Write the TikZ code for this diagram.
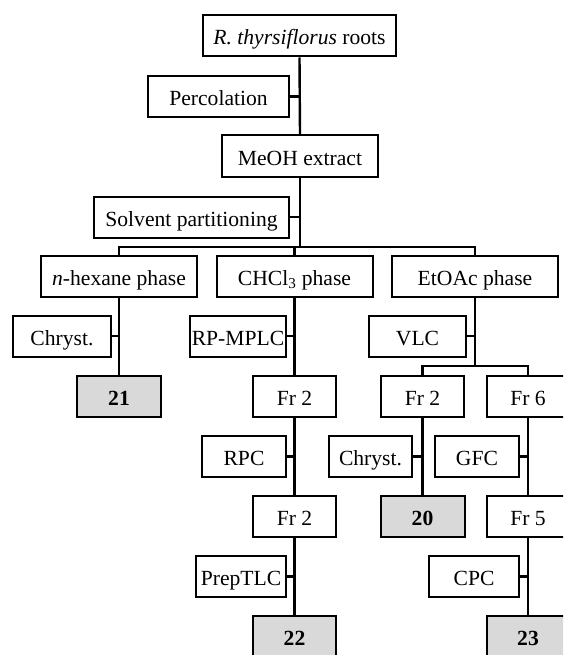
\documentclass[tikz,border=0pt]{standalone}
\usepackage{fontspec}
\setmainfont{Liberation Serif}
\usetikzlibrary{positioning, calc}
\definecolor{cmpdgray}{HTML}{D9D9D9}

\begin{document}
\begin{tikzpicture}[
  x=1pt, y=-1pt,
  stepbox/.style={
    draw=black, line width=2pt, fill=white, minimum width=#1,
    minimum height=41pt, inner xsep=1pt, inner ysep=0pt,
    text height=20pt, text depth=2pt,
    font=\fontsize{21.6}{26}\selectfont, align=center
  },
  cmpdbox/.style={
    stepbox=#1, fill=cmpdgray, font=\fontsize{21.6}{26}\selectfont\bfseries
  },
  link/.style={line width=2.4pt, black},
]

% ============================================================
% Page frame (reference is cropped at right and bottom)
% ============================================================
\useasboundingbox (0,0) rectangle (563,655);
\clip (0,0) rectangle (563,655);
\fill[white] (0,0) rectangle (563,655);

% ============================================================
% Extraction: top part
% ============================================================
\node[stepbox=193pt] (roots) at (299.5,36) {\textit{R. thyrsiflorus} roots};
\node[stepbox=141pt] (perc) at (218.5,96.5) {Percolation};
\node[stepbox=156pt] (meoh) at (300,156) {MeOH extract};
\node[stepbox=195pt] (solv) at (191.5,217) {Solvent partitioning};

% --- phases ---
\node[stepbox=156pt] (hex) at (119,276) {\textit{n}-hexane phase};
\node[stepbox=156pt] (chcl) at (294.5,276) {CHCl\textsubscript{3} phase};
\node[stepbox=166pt] (etoac) at (475,276) {EtOAc phase};

% ============================================================
% n-hexane branch
% ============================================================
\node[stepbox=98pt] (chryst-a) at (62,336) {Chryst.};
\node[cmpdbox=84pt] (c21) at (119,396.5) {21};

% ============================================================
% CHCl3 branch
% ============================================================
\node[stepbox=96pt] (rpmplc) at (238,336) {RP-MPLC};
\node[stepbox=83pt] (fr2-a) at (294.5,396.5) {Fr 2};
\node[stepbox=84pt] (rpc) at (244,456.5) {RPC};
\node[stepbox=83pt] (fr2-c) at (294.5,516.5) {Fr 2};
\node[stepbox=90pt] (prep) at (241,576.5) {PrepTLC};
\node[cmpdbox=83pt] (c22) at (294.5,636.5) {22};

% ============================================================
% EtOAc branch
% ============================================================
\node[stepbox=97pt] (vlc) at (417.5,336) {VLC};
\node[stepbox=83pt] (fr2-b) at (422.5,396.5) {Fr 2};
\node[stepbox=83pt] (fr6) at (528,396.5) {Fr 6};
\node[stepbox=83pt] (chryst-b) at (370.5,456.5) {Chryst.};
\node[stepbox=84pt] (gfc) at (477,456.5) {GFC};
\node[cmpdbox=84pt] (c20) at (422.5,516.5) {20};
\node[stepbox=83pt] (fr5) at (528,516.5) {Fr 5};
\node[stepbox=90pt] (cpc) at (474,576.5) {CPC};
\node[cmpdbox=83pt] (c23) at (528,636.5) {23};

% ============================================================
% Connectors
% ============================================================
\draw[link] (roots.south) -- (meoh.north);
\draw[link] (perc.east) -- (perc.east -| roots.south);

\coordinate (split1) at (300,247);
\draw[link] (meoh.south) -- (split1);
\draw[link] (solv.east) -- (solv.east -| meoh.south);
\draw[link] (hex.north) |- (split1) -| (etoac.north);
\draw[link] (chcl.north) -- (chcl.north |- split1);

% --- n-hexane ---
\draw[link] (hex.south) -- (c21.north);
\draw[link] (chryst-a.east) -- (chryst-a.east -| hex.south);

% --- CHCl3 ---
\draw[link] (chcl.south) -- (fr2-a.north);
\draw[link] (rpmplc.east) -- (rpmplc.east -| chcl.south);
\draw[link] (fr2-a.south) -- (fr2-c.north);
\draw[link] (rpc.east) -- (rpc.east -| fr2-a.south);
\draw[link] (fr2-c.south) -- (c22.north);
\draw[link] (prep.east) -- (prep.east -| fr2-c.south);

% --- EtOAc ---
\coordinate (split2) at (475,366);
\draw[link] (etoac.south) -- (split2);
\draw[link] (vlc.east) -- (vlc.east -| etoac.south);
\draw[link] (fr2-b.north) |- (split2) -| (fr6.north);
\draw[link] (fr2-b.south) -- (c20.north);
\draw[link] (chryst-b.east) -- (chryst-b.east -| fr2-b.south);
\draw[link] (fr6.south) -- (fr5.north);
\draw[link] (gfc.east) -- (gfc.east -| fr6.south);
\draw[link] (fr5.south) -- (c23.north);
\draw[link] (cpc.east) -- (cpc.east -| fr5.south);

\end{tikzpicture}
\end{document}
